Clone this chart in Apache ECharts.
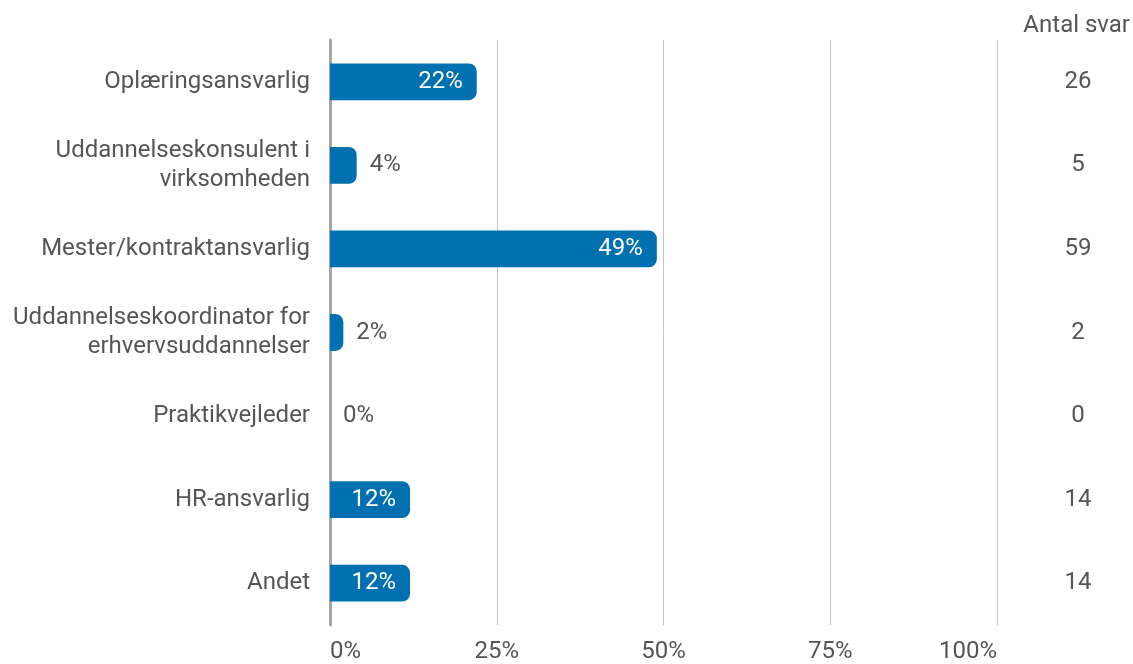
<!DOCTYPE html>
<html><head><meta charset="utf-8">
<script src="https://cdn.jsdelivr.net/npm/echarts@6/dist/echarts.min.js"></script>
<style>html,body{margin:0;padding:0;background:#fff}#c{width:1133px;height:664px}</style>
</head><body><div id="c"></div>
<script>
const categories = ['Oplæringsansvarlig','Uddannelseskonsulent i\nvirksomheden','Mester/kontraktansvarlig','Uddannelseskoordinator for\nerhvervsuddannelser','Praktikvejleder','HR-ansvarlig','Andet'];
const percentValues = [22,4,49,2,0,12,12];
const answerCounts = [26,5,59,2,0,14,14];
const xTicks = [0,25,50,75,100];

const textColor = '#555';
const barColor = '#0070b0';
const fs = 24;
const fw = 'normal';
const barData = percentValues.map(v => {
  const inside = v >= 8;
  return {
    value: v,
    label: inside
      ? {position: 'insideRight', color: '#fff', distance: 14}
      : {position: 'right', color: textColor, distance: 13}
  };
});

const chart = echarts.init(document.getElementById('c'), null, {renderer: 'canvas'});
chart.setOption({
  animation: false,
  textStyle: {fontFamily: 'Roboto'},
  title: {text: 'Antal svar', right: 3, top: 14, padding: 0, textStyle: {fontFamily: 'Roboto', fontSize: fs, fontWeight: fw, color: textColor}},
  grid: {left: 330, right: 136, top: 40, bottom: 37, containLabel: false},
  xAxis: {
    type: 'value', min: xTicks[0], max: xTicks[xTicks.length-1], interval: 25,
    axisLine: {show: false}, axisTick: {show: false},
    splitLine: {show: true, lineStyle: {color: '#c4c4c4', width: 1}},
    axisLabel: {formatter: v => v + '%', fontSize: fs, fontWeight: fw, color: textColor, margin: 15, fontFamily: 'Roboto', alignMinLabel: 'left', alignMaxLabel: 'right'}
  },
  yAxis: [{
    type: 'category', data: categories, inverse: true,
    axisLine: {show: true, lineStyle: {color: '#a6a6a6', width: 3}},
    axisTick: {show: false},
    axisLabel: {fontSize: fs, fontWeight: fw, color: textColor, margin: 20, lineHeight: 29, fontFamily: 'Roboto'}
  },{
    type: 'category', data: answerCounts.map(String), inverse: true, position: 'right',
    axisLine: {show: false}, axisTick: {show: false},
    axisLabel: {fontSize: fs, fontWeight: fw, color: textColor, margin: 81, align: 'center', fontFamily: 'Roboto'}
  }],
  series: [{
    type: 'bar', data: barData, yAxisIndex: 0,
    barCategoryGap: '56%',
    itemStyle: {color: barColor, borderRadius: [0,8,8,0]},
    label: {show: true, formatter: p => p.value + '%', fontSize: fs, fontWeight: fw, fontFamily: 'Roboto'}
  }]
});
</script></body></html>
